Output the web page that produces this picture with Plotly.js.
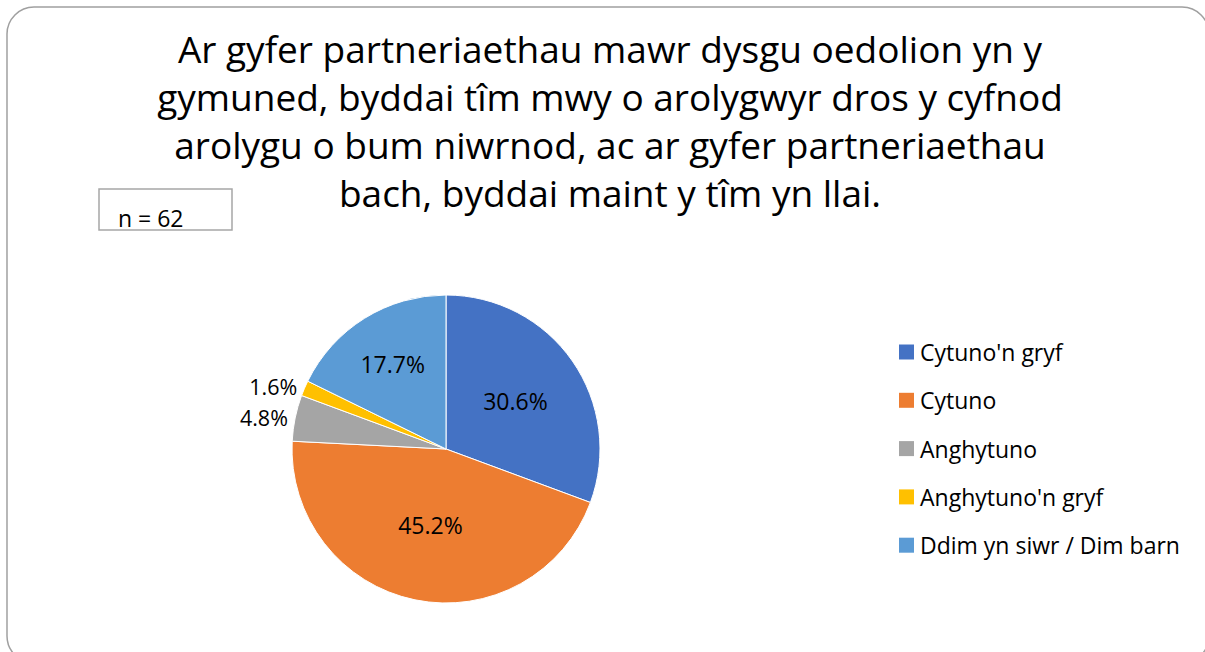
<!DOCTYPE html>
<html>
<head>
<meta charset="utf-8">
<script src="https://cdn.plot.ly/plotly-3.0.1.min.js"></script>
<style>html,body{margin:0;padding:0;background:#fff;}#chart{width:1205px;height:652px;}</style>
</head>
<body>
<div id="chart"></div>
<script>
// ---- data ----
const categories = ["Cytuno'n gryf", "Cytuno", "Anghytuno", "Anghytuno'n gryf", "Ddim yn siwr / Dim barn"];
const counts = [19, 28, 3, 1, 11];           // n = 62
const colors = ["#4472C4", "#ED7D31", "#A5A5A5", "#FFC000", "#5B9BD5"];
const titleText = "Ar gyfer partneriaethau mawr dysgu oedolion yn y<br>gymuned, byddai tîm mwy o arolygwyr dros y cyfnod<br>arolygu o bum niwrnod, ac ar gyfer partneriaethau<br>bach, byddai maint y tîm yn llai.";
const nText = "n = 62";

// ---- layout helpers ----
const W = 1205, H = 652;
const FONT = "'Open Sans', Carlito, sans-serif";
const px = x => x / W;
const py = y => 1 - y / H;

const cx = 446, cy = 449, R = 154;

const trace = {
  type: 'pie',
  labels: categories,
  values: counts,
  sort: false,
  direction: 'clockwise',
  rotation: 0,
  marker: {colors: colors, line: {color: '#ffffff', width: 1}},
  textinfo: 'percent',
  texttemplate: '%{percent:.1%}',
  textposition: ['inside', 'inside', 'outside', 'outside', 'inside'],
  insidetextorientation: 'horizontal',
  textfont: {family: FONT, size: 23, color: '#000000'},
  outsidetextfont: {family: FONT, size: 21.5, color: '#000000'},
  hoverinfo: 'label+value+percent',
  showlegend: false,
  domain: {x: [px(cx - R), px(cx + R)], y: [py(cy + R), py(cy - R)]}
};

// rounded border
function roundRect(x0, y0, x1, y1, r) {
  const k = 0.45;
  const P = (x, y) => px(x) + ',' + py(y);
  return 'M' + P(x0 + r, y0) + ' L' + P(x1 - r, y0) +
    ' C' + P(x1 - r * k, y0) + ' ' + P(x1, y0 + r * k) + ' ' + P(x1, y0 + r) +
    ' L' + P(x1, y1 - r) +
    ' C' + P(x1, y1 - r * k) + ' ' + P(x1 - r * k, y1) + ' ' + P(x1 - r, y1) +
    ' L' + P(x0 + r, y1) +
    ' C' + P(x0 + r * k, y1) + ' ' + P(x0, y1 - r * k) + ' ' + P(x0, y1 - r) +
    ' L' + P(x0, y0 + r) +
    ' C' + P(x0, y0 + r * k) + ' ' + P(x0 + r * k, y0) + ' ' + P(x0 + r, y0) + ' Z';
}

const shapes = [
  {type: 'path', xref: 'paper', yref: 'paper', path: roundRect(7, 7, 1209, 663, 27),
   line: {color: '#A0A0A0', width: 1.5}, fillcolor: 'rgba(0,0,0,0)', layer: 'below'},
  {type: 'rect', xref: 'paper', yref: 'paper', x0: px(99), x1: px(232), y0: py(230), y1: py(189),
   line: {color: '#A6A6A6', width: 1.5}, fillcolor: 'rgba(0,0,0,0)'}
];
const annotations = [
  {xref: 'paper', yref: 'paper', x: px(116), y: py(218), xanchor: 'left', yanchor: 'middle',
   text: nText, showarrow: false, font: {family: FONT, size: 23, color: '#000'}}
];

// legend built from categories/colours
const legX = 899, legY0 = 352, legStep = 48.3, sq = 15;
categories.forEach((c, i) => {
  const yc = legY0 + i * legStep;
  shapes.push({type: 'rect', xref: 'paper', yref: 'paper',
    x0: px(legX), x1: px(legX + sq), y0: py(yc + sq / 2), y1: py(yc - sq / 2),
    line: {width: 0}, fillcolor: colors[i]});
  annotations.push({xref: 'paper', yref: 'paper', x: px(legX + sq + 4), y: py(yc),
    xanchor: 'left', yanchor: 'middle', text: c, showarrow: false,
    font: {family: FONT, size: 23, color: '#000'}});
});

const layout = {
  width: W, height: H,
  margin: {l: 0, r: 0, t: 0, b: 0},
  paper_bgcolor: '#ffffff',
  showlegend: false,
  title: {text: titleText, x: px(610), xanchor: 'center', y: py(63), yanchor: 'top',
          xref: 'paper', yref: 'container',
          font: {family: FONT, size: 37, color: '#000000'}},
  shapes: shapes,
  annotations: annotations
};

Plotly.newPlot('chart', [trace], layout, {displayModeBar: false, staticPlot: true});
</script>
</body>
</html>
